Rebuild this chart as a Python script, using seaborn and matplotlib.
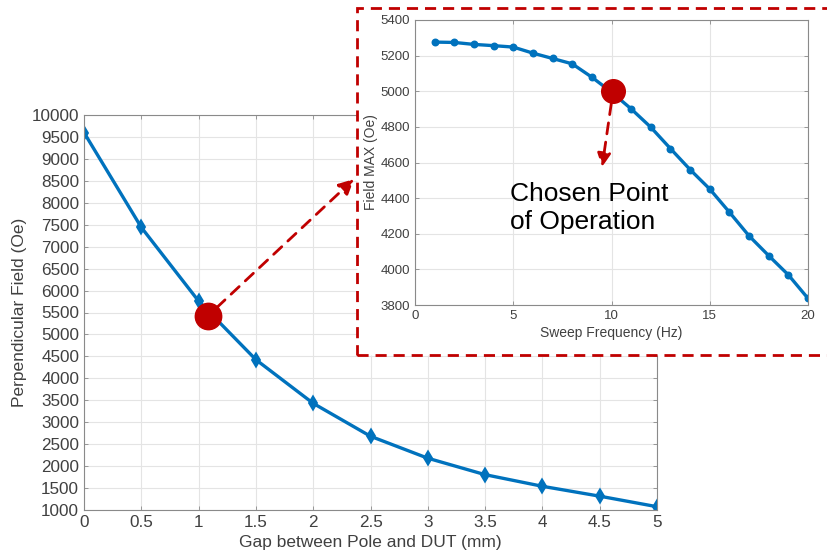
import matplotlib
matplotlib.use("Agg")
import matplotlib.pyplot as plt
import seaborn as sns
import numpy as np
import pandas as pd
from matplotlib.patches import Rectangle

# ---- data ----
gap_mm = [0, 0.5, 1, 1.5, 2, 2.5, 3, 3.5, 4, 4.5, 5]
perp_field = [9600, 7440, 5760, 4425, 3430, 2680, 2180, 1805, 1540, 1315, 1075]
main_xticks = [0, 0.5, 1, 1.5, 2, 2.5, 3, 3.5, 4, 4.5, 5]
main_xticklabels = ["0", "0.5", "1", "1.5", "2", "2.5", "3", "3.5", "4", "4.5", "5"]
main_yticks = list(range(1000, 10001, 500))

sweep_freq = list(range(1, 21))
field_max = [5276, 5274, 5263, 5256, 5248, 5214, 5184, 5154, 5079, 4995,
             4901, 4798, 4678, 4560, 4451, 4321, 4188, 4077, 3969, 3837]
inset_xticks = [0, 5, 10, 15, 20]
inset_yticks = list(range(3800, 5401, 200))

chosen_main = (1.08, 5420)
chosen_inset = (10.08, 5000)
annot_text = "Chosen Point\nof Operation"

# ---- style ----
sns.set_style("white")
plt.rcParams['font.family'] = ['Liberation Sans', 'DejaVu Sans']

BLUE = "#0072BD"
RED = "#C00000"
TXT = "#404040"
GRID = "#e4e4e4"
SPINE = "#8a8a8a"

fig = plt.figure(figsize=(8.27, 5.58), dpi=100)

def style_axes(ax, tick_fs):
    for s in ax.spines.values():
        s.set_visible(True)
        s.set_color(SPINE)
        s.set_linewidth(0.8)
    ax.tick_params(direction="in", length=3, width=0.6, color=SPINE,
                   labelcolor=TXT, labelsize=tick_fs,
                   top=True, right=True, bottom=True, left=True)
    ax.grid(True, color=GRID, linewidth=0.8)
    ax.set_axisbelow(True)

# main axes
ax = fig.add_axes([84/827, 1-510/558, (657-84)/827, (510-115)/558])
df_main = pd.DataFrame({"gap": gap_mm, "field": perp_field})
sns.lineplot(data=df_main, x="gap", y="field", ax=ax, color=BLUE, linewidth=2.4,
             marker="d", markersize=5.5, markeredgecolor=BLUE, markerfacecolor=BLUE,
             markeredgewidth=2.6)
ax.set_xlim(0, 5)
ax.set_ylim(1000, 10000)
ax.set_xticks(main_xticks)
ax.set_xticklabels(main_xticklabels)
ax.set_yticks(main_yticks)
style_axes(ax, 12.3)
ax.set_xlabel("Gap between Pole and DUT (mm)", fontsize=12.5, color=TXT, labelpad=4)
ax.set_ylabel("Perpendicular Field (Oe)", fontsize=12.5, color=TXT, labelpad=3)
ax.plot([chosen_main[0]], [chosen_main[1]], "o", color=RED, markersize=19, zorder=5)
ax.annotate("", xy=(2.356, 8540), xytext=chosen_main,
            arrowprops=dict(arrowstyle="-|>,head_length=0.9,head_width=0.45",
                            color=RED, lw=2, linestyle=(0, (4, 3)),
                            shrinkA=9, shrinkB=0),
            annotation_clip=False, zorder=6)

# dashed box
box = Rectangle((357/827, 1-355/558), 0.7, (355-8)/558, transform=fig.transFigure,
                facecolor="white", edgecolor=RED, linewidth=2,
                linestyle=(0, (4, 2.5)), zorder=10)
fig.add_artist(box)

# inset axes
ax2 = fig.add_axes([415/827, 1-305/558, (808-415)/827, (305-20)/558])
ax2.set_zorder(20)
df_in = pd.DataFrame({"freq": sweep_freq, "field": field_max})
sns.lineplot(data=df_in, x="freq", y="field", ax=ax2, color=BLUE, linewidth=2.4,
             marker="o", markersize=4.5, markeredgecolor=BLUE,
             markerfacecolor=BLUE, markeredgewidth=1.2)
ax2.set_xlim(0, 20)
ax2.set_ylim(3800, 5400)
ax2.set_xticks(inset_xticks)
ax2.set_yticks(inset_yticks)
style_axes(ax2, 9.5)
ax2.set_xlabel("Sweep Frequency (Hz)", fontsize=10, color=TXT, labelpad=3)
ax2.set_ylabel("Field MAX (Oe)", fontsize=10, color=TXT, labelpad=2)
ax2.plot([chosen_inset[0]], [chosen_inset[1]], "o", color=RED, markersize=17, zorder=5)
ax2.annotate("", xy=(9.52, 4575), xytext=chosen_inset,
             arrowprops=dict(arrowstyle="-|>,head_length=0.8,head_width=0.4",
                             color=RED, lw=2, linestyle=(0, (4, 3)),
                             shrinkA=9, shrinkB=0), zorder=6)
ax2.text(4.83, 4490, annot_text, fontsize=19, color="black", ha="left", va="top",
         linespacing=1.2)

fig.savefig("out.png", dpi=100)
